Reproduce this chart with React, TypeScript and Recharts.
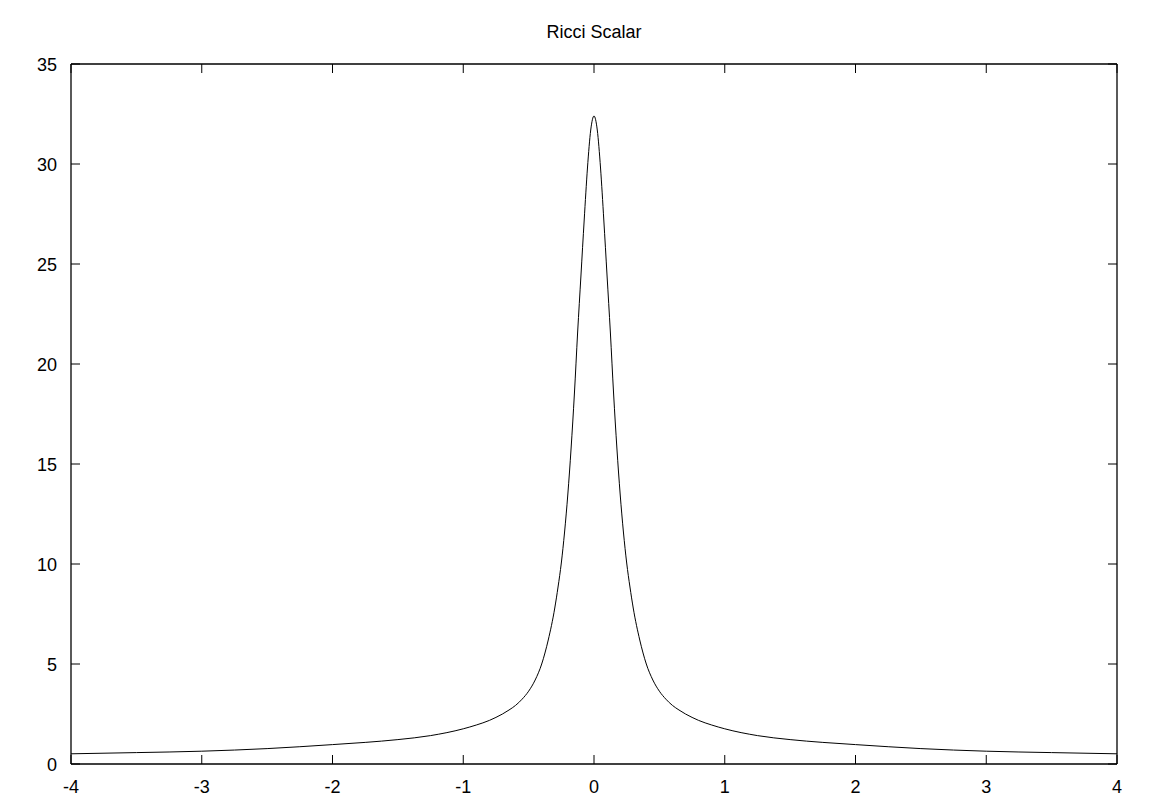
import React from 'react';
import { LineChart, Line, XAxis, YAxis } from 'recharts';

const xValues = [
  -4, -3.5, -3, -2.5, -2, -1.75, -1.5, -1.25, -1, -0.9, -0.8, -0.75, -0.7, -0.65, -0.6, -0.55, -0.5, -0.45, -0.4, -0.35, -0.3,
  -0.275, -0.25, -0.225, -0.2, -0.175, -0.15, -0.125, -0.1, -0.075, -0.05, -0.025, 0,
  0.025, 0.05, 0.075, 0.1, 0.125, 0.15, 0.175, 0.2, 0.225, 0.25, 0.275, 0.3, 0.35, 0.4, 0.45, 0.5, 0.55, 0.6, 0.65, 0.7, 0.75,
  0.8, 0.9, 1, 1.25, 1.5, 1.75, 2, 2.5, 3, 3.5, 4,
];
const ricciValues = [
  0.51, 0.57, 0.64, 0.77, 0.97, 1.08, 1.22, 1.42, 1.76, 1.95, 2.18, 2.33, 2.5, 2.7, 2.93, 3.24, 3.64, 4.2, 5.0, 6.2, 7.8,
  8.85, 10.05, 11.6, 13.5, 15.8, 18.5, 21.6, 24.4, 27.2, 29.8, 31.7, 32.4,
  31.7, 29.8, 27.2, 24.4, 21.6, 18.5, 15.8, 13.5, 11.6, 10.05, 8.85, 7.8, 6.2, 5.0, 4.2, 3.64, 3.24, 2.93, 2.7, 2.5, 2.33,
  2.18, 1.95, 1.76, 1.42, 1.22, 1.08, 0.97, 0.77, 0.64, 0.57, 0.51,
];
const xTicks = [-4, -3, -2, -1, 0, 1, 2, 3, 4];
const yTicks = [0, 5, 10, 15, 20, 25, 30, 35];
const title = 'Ricci Scalar';

const data = xValues.map((x, i) => ({ x, r: ricciValues[i] }));

const FONT = '"Liberation Sans", Arial, Helvetica, sans-serif';
const TL = 9;

const BottomTick = (p: any) => (
  <g>
    <line x1={p.x} y1={p.y} x2={p.x} y2={p.y - TL} stroke="#000" strokeWidth={1} />
    <text x={p.x} y={p.y + 23} textAnchor="middle" dominantBaseline="central" fontSize={18} fontFamily={FONT} fill="#000">
      {p.payload.value}
    </text>
  </g>
);
const TopTick = (p: any) => (
  <g>
    <line x1={p.x} y1={p.y} x2={p.x} y2={p.y + TL} stroke="#000" strokeWidth={1} />
  </g>
);
const LeftTick = (p: any) => (
  <g>
    <line x1={p.x} y1={p.y} x2={p.x + TL} y2={p.y} stroke="#000" strokeWidth={1} />
    <text x={p.x - 14} y={p.y + 1} textAnchor="end" dominantBaseline="central" fontSize={18} fontFamily={FONT} fill="#000">
      {p.payload.value}
    </text>
  </g>
);
const RightTick = (p: any) => (
  <g>
    <line x1={p.x} y1={p.y} x2={p.x - TL} y2={p.y} stroke="#000" strokeWidth={1} />
  </g>
);

export default function App() {
  return (
    <div style={{ position: 'absolute', left: 0, top: 0, width: 1153, height: 806, background: '#fff' }}>
      <div
        style={{
          position: 'absolute',
          left: 0,
          width: 1188,
          top: 21,
          textAlign: 'center',
          fontFamily: FONT,
          fontSize: 18,
          lineHeight: '22px',
          color: '#000',
        }}
      >
        {title}
      </div>
      <LineChart width={1153} height={806} data={data} margin={{ top: 63, right: 35, bottom: 41, left: 70 }}>
        <XAxis
          xAxisId="b"
          dataKey="x"
          type="number"
          domain={[-4, 4]}
          ticks={xTicks}
          height={1}
          tickSize={0}
          tickMargin={0}
          tickLine={false}
          axisLine={{ stroke: '#000', strokeWidth: 1.3 }}
          tick={BottomTick}
          interval={0}
          allowDataOverflow
        />
        <XAxis
          xAxisId="t"
          orientation="top"
          dataKey="x"
          type="number"
          domain={[-4, 4]}
          ticks={xTicks}
          height={1}
          tickSize={0}
          tickMargin={0}
          tickLine={false}
          axisLine={{ stroke: '#000', strokeWidth: 1.3 }}
          tick={TopTick}
          interval={0}
          allowDataOverflow
        />
        <YAxis
          yAxisId="l"
          type="number"
          domain={[0, 35]}
          ticks={yTicks}
          width={1}
          tickSize={0}
          tickMargin={0}
          tickLine={false}
          axisLine={{ stroke: '#000', strokeWidth: 1.3 }}
          tick={LeftTick}
          interval={0}
          allowDataOverflow
        />
        <YAxis
          yAxisId="r"
          orientation="right"
          type="number"
          domain={[0, 35]}
          ticks={yTicks}
          width={1}
          tickSize={0}
          tickMargin={0}
          tickLine={false}
          axisLine={{ stroke: '#000', strokeWidth: 1.3 }}
          tick={RightTick}
          interval={0}
          allowDataOverflow
        />
        <Line
          xAxisId="b"
          yAxisId="l"
          dataKey="r"
          type="monotone"
          stroke="#000"
          strokeWidth={1}
          dot={false}
          activeDot={false}
          isAnimationActive={false}
        />
      </LineChart>
    </div>
  );
}
